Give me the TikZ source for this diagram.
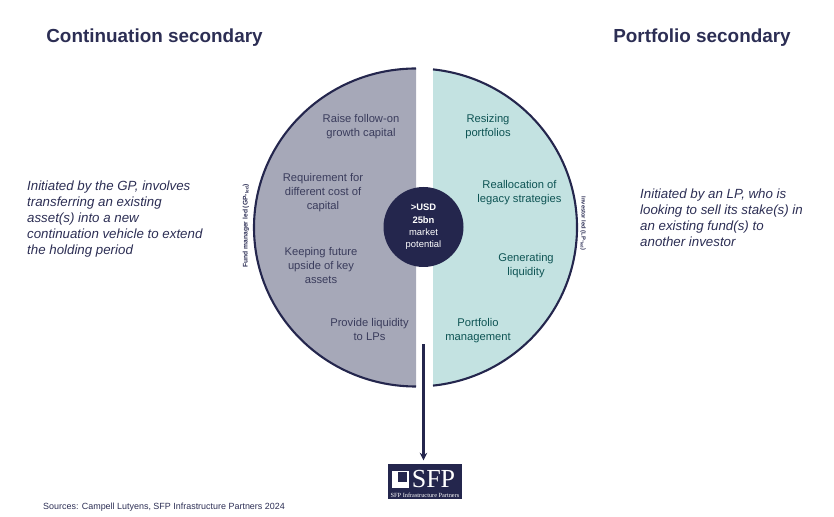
\documentclass[tikz,border=0pt]{standalone}
\usepackage{fontspec}
\usepackage{xcolor}
\usetikzlibrary{arrows.meta}
\setmainfont{Liberation Sans}
\newfontfamily\logofont{Liberation Serif}
\definecolor{cNavy}{RGB}{36,38,77}
\definecolor{cGrey}{RGB}{166,168,184}
\definecolor{cTeal}{RGB}{195,226,225}
\definecolor{cLeft}{RGB}{58,60,92}
\definecolor{cRight}{RGB}{14,84,84}
\definecolor{cNote}{RGB}{44,46,84}
\tikzset{
  title/.style={anchor=center,text=cNote,font=\fontsize{18.9}{22}\selectfont\bfseries},
  note/.style={anchor=west,align=left,inner sep=0pt,text=cNote,font=\fontsize{13.3}{16}\selectfont\itshape},
  leftitem/.style={align=center,text=cLeft,font=\fontsize{11.2}{14}\selectfont},
  rightitem/.style={align=center,text=cRight,font=\fontsize{11.2}{14}\selectfont},
  sidelabel/.style={text=cNote,inner sep=0pt,font=\bfseries},
  rim/.style={cNavy,line width=2.1pt},
}
\begin{document}
\begin{tikzpicture}[x=1pt,y=1pt]
\useasboundingbox (0,0) rectangle (834,516);
\node[title] (titleleft) at (154.5,478.5) {Continuation secondary};
\node[title] (titleright) at (702,478.5) {Portfolio secondary};
\node[note] (noteleft) at (27,297) {Initiated by the GP, involves\\transferring an existing\\asset(s) into a new\\continuation vehicle to extend\\the holding period};
\node[note] (noteright) at (640,298) {Initiated by an LP, who is\\looking to sell its stake(s) in\\an existing fund(s) to\\another investor};
% two halves of the disc
\fill[cGrey] (416,447.5) arc[start angle=90,end angle=270,x radius=162,y radius=159] -- cycle;
\fill[cTeal] (433,446.6) arc[start angle=83.94,end angle=-83.94,x radius=161,y radius=159] -- cycle;
\draw[rim] (416,447.5) arc[start angle=90,end angle=270,x radius=162,y radius=159];
\draw[rim] (433,446.6) arc[start angle=83.94,end angle=-83.94,x radius=161,y radius=159];
\node[leftitem] (raise) at (361,389) {Raise follow-on\\growth capital};
\node[leftitem] (cost) at (323,323.5) {Requirement for\\different cost of\\capital};
\node[leftitem] (upside) at (321,250.5) {Keeping future\\upside of key\\assets};
\node[leftitem] (provide) at (369.5,186.5) {Provide liquidity\\to LPs};
\node[rightitem] (resize) at (488,389) {Resizing\\portfolios};
\node[rightitem] (realloc) at (519.5,323) {Reallocation of\\legacy strategies};
\node[rightitem] (liquid) at (526,250) {Generating\\liquidity};
\node[rightitem] (manage) at (478,185) {Portfolio\\management};
\node[sidelabel,rotate=90,font=\fontsize{6.7}{8}\selectfont\bfseries] (gpled) at (246,290) {Fund manager led (GP-\textsubscript{led})};
\node[sidelabel,rotate=-90,font=\fontsize{5.8}{7}\selectfont\bfseries] (lpled) at (583,292.5) {Investor led (LP-\textsubscript{led})};
\node[circle,fill=cNavy,minimum size=80pt,inner sep=0pt,align=center,text=white,font=\fontsize{9.4}{12.4}\selectfont] (market) at (423.5,289) {\textbf{>USD}\\\textbf{25bn}\\market\\potential};
% logo
\node[fill=cNavy,minimum width=74pt,minimum height=35pt,inner sep=0pt] (logo) at (425,34.5) {};
\fill[white] (392,28) rectangle (409,45);
\fill[cNavy] (398,34) rectangle (407,43.5);
\node[text=white,anchor=center,inner sep=0pt,font=\fontsize{26}{26}\selectfont\logofont] (logoname) at (433.5,37) {SFP};
\node[text=white,anchor=center,inner sep=0pt,font=\fontsize{6.3}{7}\selectfont\logofont] (logosub) at (425,20.5) {SFP Infrastructure Partners};
\coordinate (arrowstart) at (423.5,171.5);
\draw[-{Stealth[length=7.5pt,width=7.5pt]},rim,shorten >=3.5pt] (arrowstart) -- (arrowstart |- logo.north);
\node[anchor=west,text=cNote,font=\fontsize{8.95}{10}\selectfont] (source) at (39.7,8.5) {Sources: Campell Lutyens, SFP Infrastructure Partners 2024};
\end{tikzpicture}
\end{document}
